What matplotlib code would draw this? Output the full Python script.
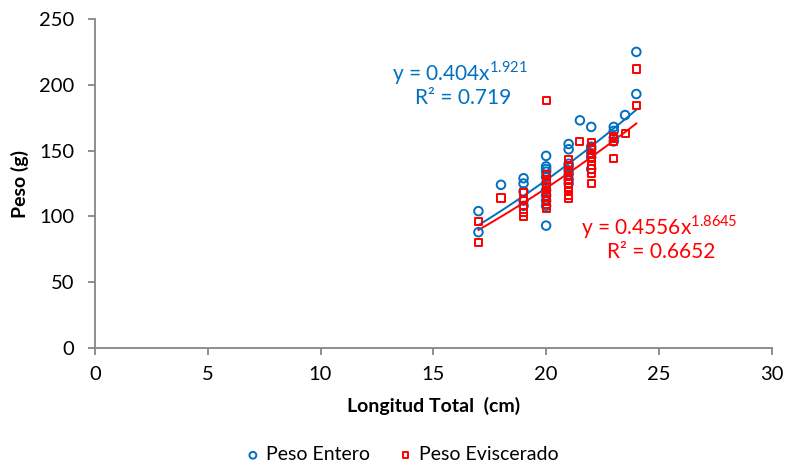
import matplotlib.pyplot as plt
import numpy as np

plt.rcParams['font.family'] = ['Lato', 'DejaVu Sans']

# Peso Entero (blue circles)
x_entero = [17, 17, 18, 19, 19, 19, 19, 19,
            20, 20, 20, 20, 20, 20, 20, 20, 20, 20, 20,
            21, 21, 21, 21, 21, 21, 21, 21, 21.5,
            22, 22, 22, 22, 22, 22, 23, 23, 23, 23, 23.5, 24, 24]
y_entero = [104, 88, 124, 129, 125, 119, 112, 108,
            146, 138, 136, 134, 130, 125, 120, 116, 112, 108, 93,
            155, 151, 140, 138, 135, 132, 128, 125, 173,
            168, 153, 151, 148, 145, 136, 168, 165, 160, 157, 177, 225, 193]

# Peso Eviscerado (red squares)
x_evisc = [17, 17, 18, 19, 19, 19, 19, 19,
           20, 20, 20, 20, 20, 20, 20, 20, 20, 20,
           21, 21, 21, 21, 21, 21, 21, 21, 21, 21, 21.5,
           22, 22, 22, 22, 22, 22, 22, 22, 22,
           23, 23, 23, 23, 23.5, 24, 24]
y_evisc = [96, 80, 114, 118, 112, 108, 103, 100,
           188, 132, 128, 125, 122, 118, 115, 112, 109, 106,
           143, 139, 135, 131, 128, 125, 122, 119, 116, 114, 157,
           156, 152, 148, 145, 142, 139, 136, 133, 125,
           161, 159, 157, 144, 163, 212, 184]

# power trendline coefficients shown on the chart
a_entero, b_entero = 0.404, 1.921
a_evisc, b_evisc = 0.4556, 1.8645

azul = '#0070C0'
rojo = '#FF0000'
gris = '#868686'

fig = plt.figure(figsize=(7.85, 4.67), dpi=100)
ax = fig.add_axes([0.121, 0.2548, 0.862, 0.7045])

ax.scatter(x_entero, y_entero, s=38, facecolors='none', edgecolors=azul,
           linewidths=1.4, marker='o', label='Peso Entero', zorder=3)
ax.scatter(x_evisc, y_evisc, s=26, facecolors='none', edgecolors=rojo,
           linewidths=1.4, marker='s', label='Peso Eviscerado', zorder=3)

xt = np.linspace(min(x_entero), max(x_entero), 50)
ax.plot(xt, a_entero * xt ** b_entero, color=azul, lw=1.4, zorder=2)
ax.plot(xt, a_evisc * xt ** b_evisc, color=rojo, lw=1.4, zorder=2)

ax.set_xlim(0, 30)
ax.set_ylim(0, 250)
ax.set_xticks(range(0, 31, 5))
ax.set_yticks(range(0, 251, 50))

for s in ['top', 'right']:
    ax.spines[s].set_visible(False)
for s in ['left', 'bottom']:
    ax.spines[s].set_color(gris)
    ax.spines[s].set_linewidth(1.3)
ax.tick_params(axis='both', colors=gris, length=5, width=1.3, labelsize=14.5,
               labelcolor='black')
ax.tick_params(axis='y', pad=10)
ax.tick_params(axis='x', pad=8)

ax.set_xlabel('Longitud Total  (cm)', fontsize=14, fontweight='bold', labelpad=10)
ax.set_ylabel('Peso (g)', fontsize=14, fontweight='bold', labelpad=7)

ax.text(16.2, 209, r'y = 0.404x$^{\mathregular{1.921}}$', color=azul, fontsize=15,
        ha='center', va='center')
ax.text(16.3, 190, 'R² = 0.719', color=azul, fontsize=15, ha='center', va='center')
ax.text(25.0, 92, r'y = 0.4556x$^{\mathregular{1.8645}}$', color=rojo, fontsize=15,
        ha='center', va='center')
ax.text(25.1, 73, 'R² = 0.6652', color=rojo, fontsize=15, ha='center', va='center')

fig.legend(loc='center', bbox_to_anchor=(0.512, 0.026), ncol=2, frameon=False,
           fontsize=14, handlelength=0.8, handletextpad=0.3, columnspacing=1.4,
           markerscale=0.8)

fig.savefig('out.png', dpi=100)
